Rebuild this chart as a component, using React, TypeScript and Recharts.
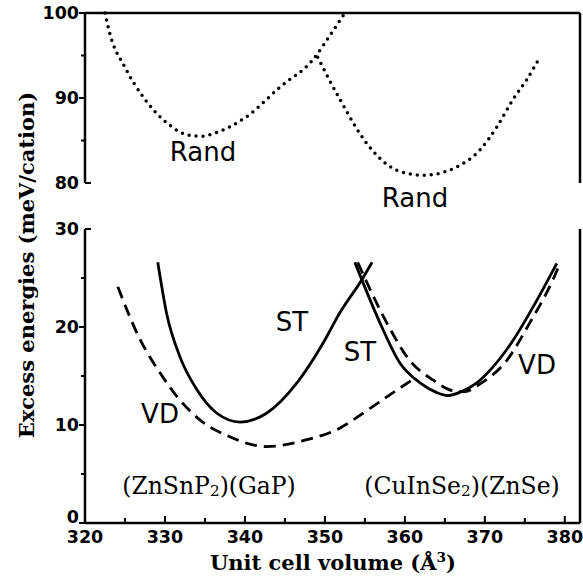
import React from 'react'
import { LineChart, Line, XAxis, YAxis } from 'recharts'

// upper panel: random alloys (dotted)
const randAX = [322.5, 323.1, 325.0, 327.3, 330.2, 333.1, 334.6, 336.0, 340.2, 344.4, 348.5, 350.8, 352.5]
const randAY = [100, 97.6, 93.6, 90.1, 87.1, 85.6, 85.5, 85.8, 87.8, 91.3, 94.5, 97.6, 100]
const randBX = [349.1, 351.9, 355.2, 359.0, 362.3, 366.5, 369.4, 371.5, 373.5, 375.2, 376.7]
const randBY = [94.8, 89.8, 84.7, 81.5, 80.9, 81.9, 83.9, 86.6, 89.8, 92.1, 94.5]

// lower panel: ST (solid) and VD (dashed)
const stAX = [329.1, 330.2, 331.9, 334.0, 336.5, 339.4, 342.7, 346.5, 349.8, 351.9, 354.6, 355.9]
const stAY = [26.6, 21.4, 16.9, 13.6, 11.2, 10.3, 11.2, 14.3, 18.4, 21.5, 24.8, 26.6]
const stBX = [353.75, 356.9, 359.4, 361.9, 364.0, 365.4, 367.3, 369.0, 371.0, 373.5, 376.0, 379.0]
const stBY = [26.6, 20.4, 16.3, 14.3, 13.3, 13.0, 13.5, 14.3, 15.9, 18.6, 22.0, 26.5]
const vdAX = [324.1, 326.9, 329.4, 331.5, 334.4, 338.1, 342.7, 347.75, 351.9, 353.5, 357.25, 360.9]
const vdAY = [24.1, 18.7, 15.3, 12.9, 10.5, 8.8, 7.8, 8.5, 9.7, 10.5, 12.6, 14.6]
const vdBX = [354.1, 357.75, 360.6, 363.5, 366.0, 367.5, 369.4, 372.75, 375.6, 378.5, 379.4]
const vdBY = [26.6, 20.4, 16.6, 14.6, 13.5, 13.4, 14.2, 16.6, 20.4, 24.8, 26.5]

const xTicks = [320, 325, 330, 335, 340, 345, 350, 355, 360, 365, 370, 375, 380]
const topYTicks = [80, 85, 90, 95, 100]
const bottomYTicks = [0, 5, 10, 15, 20, 25, 30]
const rightTopTicks = [80, 85, 90, 95]
const rightBottomTicks = [5, 10, 15, 20, 25, 30]

const X_DOMAIN = [320, 381.9]

const pts = (xs: number[], ys: number[]) => xs.map((x, i) => ({ x, y: ys[i] }))

const AXIS = { stroke: '#000', strokeWidth: 2.5 }
const NUM = { fontFamily: 'DejaVu Sans', fontWeight: 700, fontSize: 17.5, fill: '#000' }

const leftTick = (cap: number) => (p: any) => {
  const v = p.payload.value
  const major = v % 10 === 0
  const x2 = v === cap ? p.x + 6 : p.x - (major ? 6 : 4)
  return (
    <g>
      <line x1={p.x} x2={x2} y1={p.y} y2={p.y} stroke="#000" strokeWidth={2} />
      {major && (
        <text x={p.x - 6} y={p.y + (v === 0 ? -6 : 0)} dy="0.36em" textAnchor="end" {...NUM}>
          {v}
        </text>
      )}
    </g>
  )
}

const rightTick = (p: any) => (
  <line x1={p.x} x2={p.x - 6} y1={p.y} y2={p.y} stroke="#000" strokeWidth={2} />
)

const bottomTick = (p: any) => {
  const v = p.payload.value
  const major = v % 10 === 0
  return (
    <g>
      <line x1={p.x} x2={p.x} y1={p.y} y2={p.y - (major ? 7 : 5)} stroke="#000" strokeWidth={2} />
      {major && (
        <text x={p.x} y={p.y + 20} textAnchor="middle" {...NUM}>
          {v}
        </text>
      )}
    </g>
  )
}

const label = (text: React.ReactNode, x: number, y: number, style: React.CSSProperties) => (
  <div
    style={{
      position: 'absolute',
      left: x,
      top: y,
      transform: 'translate(-50%, -50%)',
      whiteSpace: 'nowrap',
      lineHeight: 1,
      color: '#000',
      ...style,
    }}
  >
    {text}
  </div>
)

const TAG = { fontFamily: 'DejaVu Sans', fontSize: 26 }
const SERIF = { fontFamily: 'DejaVu Serif', fontSize: 23.5 }
const TITLE = { fontFamily: 'DejaVu Serif', fontWeight: 700, fontSize: 21 }
const SUB = { fontSize: '0.65em', verticalAlign: '-0.1em' }

export default function App() {
  const dotted = { stroke: '#000', strokeWidth: 3.5, strokeDasharray: '0 7', strokeLinecap: 'round' as const }
  const solid = { stroke: '#000', strokeWidth: 2.8 }
  const dashed = { stroke: '#000', strokeWidth: 2.8, strokeDasharray: '12 7' }

  return (
    <div style={{ position: 'absolute', left: 0, top: 0, width: 583, height: 580, background: '#fff', overflow: 'hidden' }}>
      <div style={{ position: 'absolute', left: 0, top: 0 }}>
        <LineChart width={583} height={580} margin={{ top: 13, right: 0, bottom: 397, left: 0 }}>
          <XAxis type="number" dataKey="x" domain={X_DOMAIN} hide height={0} allowDataOverflow />
          <YAxis yAxisId="l" type="number" domain={[80, 100]} ticks={topYTicks} interval={0} width={85}
            tickSize={0} tickMargin={0} tickLine={false} tick={leftTick(80)} axisLine={AXIS} />
          <YAxis yAxisId="r" orientation="right" type="number" domain={[80, 100]} ticks={rightTopTicks} interval={0} width={3}
            tickSize={0} tickMargin={0} tickLine={false} tick={rightTick} axisLine={AXIS} />
          <Line yAxisId="l" data={pts(randAX, randAY)} dataKey="y" type="monotone" dot={false} isAnimationActive={false} {...dotted} />
          <Line yAxisId="l" data={pts(randBX, randBY)} dataKey="y" type="monotone" dot={false} isAnimationActive={false} {...dotted} />
        </LineChart>
      </div>

      <div style={{ position: 'absolute', left: 0, top: 0 }}>
        <LineChart width={583} height={580} margin={{ top: 229, right: 0, bottom: 27, left: 0 }}>
          <XAxis
            type="number"
            dataKey="x"
            domain={X_DOMAIN}
            ticks={xTicks}
            interval={0}
            height={30}
            tickSize={0}
            tickMargin={0}
            tickLine={false}
            tick={bottomTick}
            axisLine={AXIS}
            allowDataOverflow
          />
          <YAxis yAxisId="l" type="number" domain={[0, 30]} ticks={bottomYTicks} interval={0} width={85}
            tickSize={0} tickMargin={0} tickLine={false} tick={leftTick(30)} axisLine={AXIS} allowDataOverflow />
          <YAxis yAxisId="r" orientation="right" type="number" domain={[0, 30]} ticks={rightBottomTicks} interval={0} width={3}
            tickSize={0} tickMargin={0} tickLine={false} tick={rightTick} axisLine={AXIS} />
          <Line yAxisId="l" data={pts(stAX, stAY)} dataKey="y" type="monotone" dot={false} isAnimationActive={false} {...solid} />
          <Line yAxisId="l" data={pts(stBX, stBY)} dataKey="y" type="monotone" dot={false} isAnimationActive={false} {...solid} />
          <Line yAxisId="l" data={pts(vdAX, vdAY)} dataKey="y" type="monotone" dot={false} isAnimationActive={false} {...dashed} />
          <Line yAxisId="l" data={pts(vdBX, vdBY)} dataKey="y" type="monotone" dot={false} isAnimationActive={false} {...dashed} />
        </LineChart>
      </div>

      {/* upper frame line, drawn last: axis line lands at y = 60 - 47 = 13 */}
      <div style={{ position: 'absolute', left: 0, top: -47 }}>
        <LineChart width={583} height={300} margin={{ top: 40, right: 3, bottom: 20, left: 85 }}>
          <XAxis orientation="top" type="number" dataKey="x" domain={X_DOMAIN} height={20} tick={false} tickLine={false} axisLine={AXIS} />
          <YAxis hide domain={[80, 100]} />
          <Line data={pts(randAX, randAY)} dataKey="y" type="monotone" dot={false} isAnimationActive={false} stroke="none" />
        </LineChart>
      </div>

      {label('Rand', 203, 152, TAG)}
      {label('Rand', 415, 198, TAG)}
      {label('ST', 292, 322, TAG)}
      {label('ST', 360, 352, TAG)}
      {label('VD', 160, 414, TAG)}
      {label('VD', 537, 365, TAG)}
      {label(<span>(ZnSnP<span style={SUB}>2</span>)(GaP)</span>, 209, 487, SERIF)}
      {label(<span>(CuInSe<span style={SUB}>2</span>)(ZnSe)</span>, 462, 487, SERIF)}
      {label(<span>Unit cell volume (Å<sup style={{ fontSize: '0.65em' }}>3</sup>)</span>, 333, 562, TITLE)}
      <div
        style={{
          position: 'absolute',
          left: 26,
          top: 265,
          transform: 'translate(-50%, -50%) rotate(-90deg)',
          whiteSpace: 'nowrap',
          lineHeight: 1,
          color: '#000',
          ...TITLE,
        }}
      >
        Excess energies (meV/cation)
      </div>
    </div>
  )
}
